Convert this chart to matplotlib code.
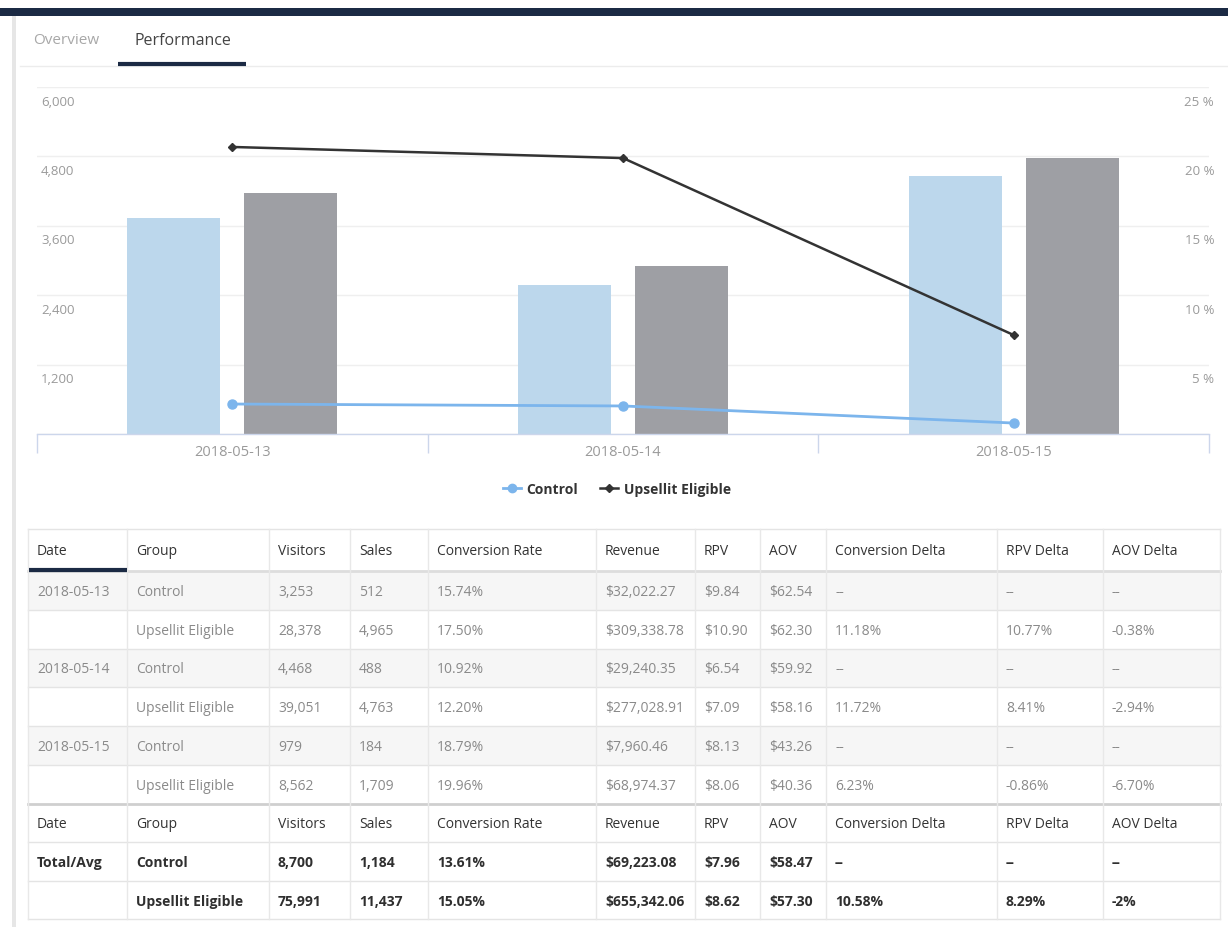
import matplotlib
matplotlib.use("Agg")
import matplotlib.pyplot as plt
import numpy as np
from matplotlib.patches import Rectangle
from matplotlib.lines import Line2D
from matplotlib.transforms import offset_copy

plt.rcParams['font.family'] = ['Open Sans', 'DejaVu Sans']

# ---------------- data ----------------
categories = ["2018-05-13", "2018-05-14", "2018-05-15"]
control_bars = [3735, 2576, 4461]
upsell_bars = [4167, 2905, 4772]
control_rate = [2.16, 2.02, 0.79]
upsell_rate = [20.68, 19.88, 7.13]
left_ticks = [0, 1200, 2400, 3600, 4800, 6000]
left_labels = ["", "1,200", "2,400", "3,600", "4,800", "6,000"]
right_ticks = [0, 5, 10, 15, 20, 25]
right_labels = ["", "5 %", "10 %", "15 %", "20 %", "25 %"]
series_names = ["Control", "Upsellit Eligible"]

headers = ["Date", "Group", "Visitors", "Sales", "Conversion Rate", "Revenue",
           "RPV", "AOV", "Conversion Delta", "RPV Delta", "AOV Delta"]
row_dates = ["2018-05-13", "", "2018-05-14", "", "2018-05-15", ""]
row_groups = ["Control", "Upsellit Eligible"] * 3
row_visitors = ["3,253", "28,378", "4,468", "39,051", "979", "8,562"]
row_sales = ["512", "4,965", "488", "4,763", "184", "1,709"]
row_conv = ["15.74%", "17.50%", "10.92%", "12.20%", "18.79%", "19.96%"]
row_revenue = ["$32,022.27", "$309,338.78", "$29,240.35", "$277,028.91", "$7,960.46", "$68,974.37"]
row_rpv = ["$9.84", "$10.90", "$6.54", "$7.09", "$8.13", "$8.06"]
row_aov = ["$62.54", "$62.30", "$59.92", "$58.16", "$43.26", "$40.36"]
row_conv_delta = ["--", "11.18%", "--", "11.72%", "--", "6.23%"]
row_rpv_delta = ["--", "10.77%", "--", "8.41%", "--", "-0.86%"]
row_aov_delta = ["--", "-0.38%", "--", "-2.94%", "--", "-6.70%"]
total_control = ["Total/Avg", "Control", "8,700", "1,184", "13.61%", "$69,223.08",
                 "$7.96", "$58.47", "--", "--", "--"]
total_upsell = ["", "Upsellit Eligible", "75,991", "11,437", "15.05%", "$655,342.06",
                "$8.62", "$57.30", "10.58%", "8.29%", "-2%"]

# ---------------- figure ----------------
W, H = 1228, 928
fig = plt.figure(figsize=(W / 100, H / 100), dpi=100)
fig.patch.set_facecolor("white")

bg = fig.add_axes([0, 0, 1, 1])
bg.set_xlim(0, W)
bg.set_ylim(H, 0)
bg.axis("off")
bg.set_zorder(0)

NAVY = "#1b2a44"
bg.add_patch(Rectangle((0, 9), W, 8, color=NAVY, lw=0))
bg.add_patch(Rectangle((12, 17), 4, H - 17, color="#e6e6e6", lw=0))

# tabs
bg.text(33, 41, "Overview", fontsize=11, color="#a8a8a8", va="center", ha="left")
bg.text(135, 41, "Performance", fontsize=11.5, color="#444444", va="center", ha="left")
bg.plot([20, W], [66.5, 66.5], color="#ececec", lw=1)
bg.plot([118, 246], [65, 65], color=NAVY, lw=3, solid_capstyle="butt")

# ---------------- chart ----------------
L, R, T, B = 37, 1209, 88, 435
ax = fig.add_axes([L / W, (H - B) / H, (R - L) / W, (B - T) / H])
ax.set_zorder(2)
ax.patch.set_alpha(0)
ax2 = ax.twinx()
ax2.set_zorder(3)
ax2.patch.set_alpha(0)

x = np.arange(len(categories))
ax.set_xlim(-0.5, len(categories) - 0.5)
ax.set_ylim(left_ticks[0], left_ticks[-1])
ax2.set_ylim(right_ticks[0], right_ticks[-1])

ax.bar(x - 0.15, control_bars, width=0.238, color="#bcd7ec", zorder=2)
ax.bar(x + 0.15, upsell_bars, width=0.238, color="#9e9fa4", zorder=2)

ax2.plot(x, control_rate, color="#7cb5ec", lw=2, marker="o", ms=6.5, zorder=5)
ax2.plot(x, upsell_rate, color="#333333", lw=1.8, marker="D", ms=4, zorder=5)

for a in (ax, ax2):
    for s in ("top", "left", "right"):
        a.spines[s].set_visible(False)
ax2.spines["bottom"].set_visible(False)
ax.spines["bottom"].set_color("#ccd6eb")
ax.spines["bottom"].set_linewidth(1)

ax.set_yticks(left_ticks)
ax.set_yticklabels([])
ax.tick_params(axis="y", length=0)
ax2.set_yticks(right_ticks)
ax2.set_yticklabels([])
ax2.tick_params(axis="y", length=0)
ax.grid(axis="y", color="#efefef", lw=1, zorder=0)
ax.set_axisbelow(True)

ax.set_xticks(np.arange(len(categories) + 1) - 0.5)
ax.set_xticklabels([])
ax.tick_params(axis="x", which="major", length=14, color="#ccd6eb", width=1)
ax.set_xticks(x, minor=True)
ax.set_xticklabels(categories, minor=True, fontsize=10.5, color="#9a9a9a")
ax.tick_params(axis="x", which="minor", length=0, pad=7)

tl = offset_copy(ax.get_yaxis_transform(), fig=fig, x=4, y=-14, units="dots")
for v, lab in zip(left_ticks, left_labels):
    if lab:
        ax.text(0, v, lab, transform=tl, ha="left", va="center", fontsize=9.5, color="#9a9a9a")
tr = offset_copy(ax2.get_yaxis_transform(), fig=fig, x=5, y=-14, units="dots")
for v, lab in zip(right_ticks, right_labels):
    if lab:
        ax2.text(1, v, lab, transform=tr, ha="right", va="center", fontsize=9.5, color="#9a9a9a")

handles = [Line2D([0], [0], color="#7cb5ec", lw=2, marker="o", ms=6),
           Line2D([0], [0], color="#333333", lw=1.8, marker="D", ms=4)]
fig.legend(handles, series_names, loc="center", bbox_to_anchor=(617 / W, 1 - 490 / H),
           ncol=2, frameon=False, prop={"weight": "bold", "size": 10},
           handlelength=1.3, handletextpad=0.4, columnspacing=1.6,
           labelcolor="#333333")

# ---------------- table ----------------
col_edges = [28, 127, 269, 350, 428, 596, 695, 760, 826, 997, 1103, 1220]
row_edges = [530, 572, 611, 650, 688, 727, 766, 805, 843, 882, 920]

data_rows = list(zip(row_dates, row_groups, row_visitors, row_sales, row_conv, row_revenue,
                     row_rpv, row_aov, row_conv_delta, row_rpv_delta, row_aov_delta))
rows = [(headers, "header")] + [(list(r), "data") for r in data_rows] + \
       [(headers, "header2"), (total_control, "total"), (total_upsell, "total")]

for i, (cells, kind) in enumerate(rows):
    y0, y1 = row_edges[i], row_edges[i + 1]
    yc = (y0 + y1) / 2
    if kind == "data" and cells[0]:
        bg.add_patch(Rectangle((col_edges[0], y0), col_edges[-1] - col_edges[0], y1 - y0,
                               color="#f6f6f6", lw=0, zorder=1))
    for j, txt in enumerate(cells):
        if kind in ("header", "header2"):
            color, weight, fs = "#333333", "normal", 10
        elif kind == "total":
            color, weight, fs = "#2f2f2f", "bold", 10
        else:
            color, weight, fs = "#8a8a8a", "normal", 10
        bg.text(col_edges[j] + 9, yc + 1, txt, fontsize=fs, color=color, weight=weight,
                ha="left", va="center", zorder=3)

# grid lines of table
for k, yy in enumerate(row_edges):
    c, lw = "#e4e4e4", 1
    if k == 1:
        c, lw = "#dddddd", 2
    if k == 7:
        c, lw = "#cfcfcf", 2
    bg.plot([col_edges[0], col_edges[-1]], [yy, yy], color=c, lw=lw, zorder=2)
for xx in col_edges:
    bg.plot([xx, xx], [row_edges[0], row_edges[-1]], color="#e8e8e8", lw=1, zorder=2)
bg.plot([29, 127], [570.5, 570.5], color=NAVY, lw=3, solid_capstyle="butt", zorder=4)

fig.savefig("out.png", dpi=100)
